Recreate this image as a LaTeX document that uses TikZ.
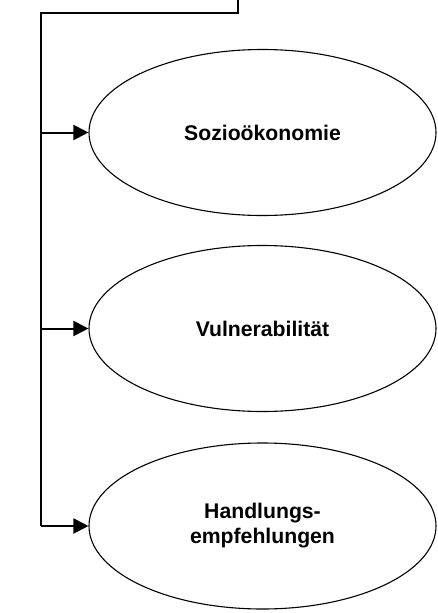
\documentclass[tikz,border=0pt]{standalone}
\usepackage{fontspec}
\setmainfont{Liberation Sans}
\usetikzlibrary{arrows.meta,shapes.geometric}
\begin{document}
\begin{tikzpicture}[x=1pt,y=-1pt,
  oval/.style={draw,line width=1.1pt,ellipse,minimum width=347pt,minimum height=166pt,inner sep=0pt,
    font=\fontsize{21.2}{25}\selectfont\bfseries,align=center},
  conn/.style={line width=2pt},
  arr/.style={conn,-{Triangle[length=15pt,width=15pt]}}]
\useasboundingbox (0,0) rectangle (437,613);
\node[oval] (s) at (262.5,132.5) {Sozioökonomie};
\node[oval] (v) at (262.5,328.5) {Vulnerabilität};
\node[oval] (h) at (262.5,526) {Handlungs-\\empfehlungen};
\coordinate (top) at (238,-2);
\coordinate (corner) at (238,13);
\coordinate (tl) at (41,13);
\coordinate (bl) at (41,526);
\draw[conn] (top) -- (corner) -- (tl) -- (bl);
\draw[arr] (bl) -- (h.west);
\draw[arr] (tl |- s.west) -- (s.west);
\draw[arr] (tl |- v.west) -- (v.west);
\end{tikzpicture}
\end{document}
